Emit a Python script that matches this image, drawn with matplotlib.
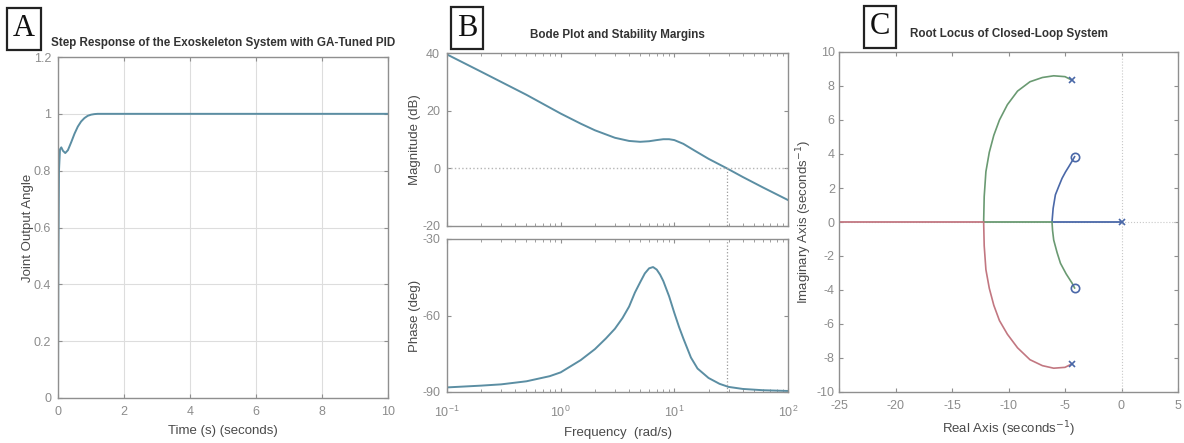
import numpy as np
import matplotlib
matplotlib.use("Agg")
import matplotlib.pyplot as plt
from matplotlib.ticker import LogLocator, NullFormatter

# ---- data ----
# A: step response
step_t = [0, 0.01, 0.03, 0.06, 0.1, 0.15, 0.22, 0.3, 0.4, 0.5, 0.6, 0.7, 0.8, 0.9, 1.0, 1.1, 1.2, 1.4, 2, 10]
step_y = [0, 0.45, 0.8, 0.875, 0.882, 0.87, 0.862, 0.872, 0.9, 0.93, 0.955, 0.973, 0.985, 0.993, 0.997, 0.999, 1.0, 1.0, 1.0, 1.0]

# B: bode magnitude / phase
mag_w = [0.1, 0.2, 0.5, 1, 1.5, 2, 3, 4, 5, 6, 7, 8, 9, 10, 12, 15, 20, 29, 40, 60, 100]
mag_db = [39.5, 33.5, 25.5, 19, 15.5, 13.2, 10.6, 9.5, 9.2, 9.4, 9.8, 10.1, 10.1, 9.8, 8.5, 6.2, 3.3, 0, -3, -6.6, -11]
ph_w = [0.1, 0.2, 0.3, 0.5, 0.8, 1, 1.5, 2, 2.5, 3, 3.5, 4, 4.5, 5, 5.5, 6, 6.5, 7, 7.5, 8, 9, 10,
        11, 12, 14, 16, 20, 25, 30, 40, 60, 100]
ph_deg = [-88.2, -87.5, -87, -85.8, -83.8, -82.3, -77.5, -73.2, -69, -65.2, -61, -56.5, -51, -47, -43.5,
          -41.5, -41, -42, -44, -46.5, -52.5, -59, -64.5, -69, -76.5, -80.8, -84.5, -86.8, -88, -88.8, -89.3, -89.6]
w_crossover = 29

# C: root locus branches
outer_up_x = [-4.4, -5.0, -6.0, -7.0, -8.1, -9.2, -10.1, -10.8, -11.3, -11.7, -12.0, -12.15, -12.2]
outer_up_y = [8.35, 8.55, 8.6, 8.5, 8.25, 7.7, 6.9, 6.0, 5.1, 4.1, 2.96, 1.5, 0]
outer_lo_x = [-4.4, -5.0, -6.0, -7.0, -8.1, -9.2, -10.1, -10.8, -11.3, -11.7, -12.0, -12.15, -12.2]
outer_lo_y = [-8.35, -8.55, -8.6, -8.45, -8.1, -7.4, -6.6, -5.8, -4.9, -3.9, -2.8, -1.4, 0]
inner_up_x = [-6.15, -6.05, -5.85, -5.55, -5.26, -4.95, -4.67, -4.4, -4.15]
inner_up_y = [0, 0.8, 1.6, 2.1, 2.57, 2.95, 3.25, 3.55, 3.84]
inner_lo_x = [-6.15, -6.1, -6.0, -5.7, -5.4, -4.9, -4.37, -4.15]
inner_lo_y = [0, -0.5, -1.06, -1.8, -2.43, -3.05, -3.6, -3.88]
real_red_x = [-25, -12.2]
real_green_x = [-12.2, -6.15]
real_blue_x = [-6.15, 0]
poles_x = [-4.4, -4.4, 0]
poles_y = [8.35, -8.35, 0]
zeros_x = [-4.15, -4.15]
zeros_y = [3.84, -3.88]

# ---- style ----
plt.rcParams['font.family'] = ['Liberation Sans', 'DejaVu Sans']
plt.rcParams['axes.unicode_minus'] = False
line_c = '#5b8ea3'
tick_c = '#8c8c8c'
spine_c = '#8f8f8f'
lab_c = '#4a4a4a'
rl_blue = '#4a68a8'
rl_green = '#6a9a72'
rl_red = '#c27781'

W, H = 1184, 443
fig = plt.figure(figsize=(W / 100, H / 100), dpi=100)


def box(l, t, r, b):
    return [l / W, 1 - b / H, (r - l) / W, (b - t) / H]


def style(ax, ypad=5):
    for s in ax.spines.values():
        s.set_color(spine_c)
        s.set_linewidth(1.0)
    ax.tick_params(direction='in', top=True, right=True, colors=spine_c,
                   labelcolor=tick_c, labelsize=9, length=3, pad=6)
    ax.tick_params(axis='y', pad=ypad)
    ax.tick_params(which='minor', direction='in', top=True, right=True, colors=spine_c, length=2)


title_kw = dict(fontsize=8.4, fontweight='bold', color='#333333')

# ---- A ----
axA = fig.add_axes(box(58, 57, 388, 398))
axA.plot(step_t, step_y, color=line_c, lw=1.4)
axA.set_xlim(0, 10)
axA.set_ylim(0, 1.2)
axA.set_xticks([0, 2, 4, 6, 8, 10])
axA.set_yticks([0, 0.2, 0.4, 0.6, 0.8, 1, 1.2])
axA.set_yticklabels(['0', '0.2', '0.4', '0.6', '0.8', '1', '1.2'])
axA.grid(True, color='#dddddd', lw=0.8)
style(axA, ypad=5)
axA.set_xlabel('Time (s) (seconds)', fontsize=9.5, color=lab_c, labelpad=5)
axA.set_ylabel('Joint Output Angle', fontsize=9.5, color=lab_c, labelpad=0)
axA.set_title('Step Response of the Exoskeleton System with GA-Tuned PID', pad=8, **title_kw)

# ---- B magnitude ----
axM = fig.add_axes(box(447, 53, 788, 226))
axM.semilogx(mag_w, mag_db, color=line_c, lw=1.4)
axM.axhline(0, color='#b5b5b5', lw=1.0, ls=':')
axM.plot([w_crossover, w_crossover], [0, -20], color='#9a9a9a', lw=0.9, ls=':')
axM.set_xlim(0.1, 100)
axM.set_ylim(-20, 40)
axM.set_yticks([-20, 0, 20, 40])
axM.xaxis.set_major_locator(LogLocator(base=10, numticks=10))
axM.xaxis.set_minor_locator(LogLocator(base=10, subs=np.arange(2, 10), numticks=10))
axM.xaxis.set_major_formatter(NullFormatter())
axM.xaxis.set_minor_formatter(NullFormatter())
style(axM)
axM.set_ylabel('Magnitude (dB)', fontsize=9.5, color=lab_c, labelpad=1)
axM.set_title('Bode Plot and Stability Margins', pad=11, **title_kw)

# ---- B phase ----
axP = fig.add_axes(box(447, 239, 788, 392))
axP.semilogx(ph_w, ph_deg, color=line_c, lw=1.4)
axP.axvline(w_crossover, color='#9a9a9a', lw=0.9, ls=':')
axP.set_xlim(0.1, 100)
axP.set_ylim(-90, -30)
axP.set_yticks([-90, -60, -30])
axP.xaxis.set_major_locator(LogLocator(base=10, numticks=10))
axP.xaxis.set_minor_locator(LogLocator(base=10, subs=np.arange(2, 10), numticks=10))
axP.xaxis.set_minor_formatter(NullFormatter())
style(axP)
axP.tick_params(axis='x', pad=9)
axP.set_ylabel('Phase (deg)', fontsize=9.5, color=lab_c, labelpad=1)
axP.set_xlabel('Frequency  (rad/s)', fontsize=9.5, color=lab_c, labelpad=5)

# ---- C ----
axC = fig.add_axes(box(839, 52, 1178, 392))
axC.axhline(0, color='#c8c8c8', lw=0.8, ls=':')
axC.axvline(0, color='#c8c8c8', lw=0.8, ls=':')
axC.plot(real_red_x, [0, 0], color=rl_red, lw=1.3)
axC.plot(real_green_x, [0, 0], color=rl_green, lw=1.3)
axC.plot(real_blue_x, [0, 0], color=rl_blue, lw=1.3)
axC.plot(outer_up_x, outer_up_y, color=rl_green, lw=1.2)
axC.plot(outer_lo_x, outer_lo_y, color=rl_red, lw=1.2)
axC.plot(inner_up_x, inner_up_y, color=rl_blue, lw=1.2)
axC.plot(inner_lo_x, inner_lo_y, color=rl_green, lw=1.2)
axC.plot(poles_x, poles_y, 'x', color=rl_blue, ms=4, mew=1.2)
axC.plot(zeros_x, zeros_y, 'o', mfc='none', mec=rl_blue, ms=6, mew=1.2)
axC.set_xlim(-25, 5)
axC.set_ylim(-10, 10)
axC.set_xticks([-25, -20, -15, -10, -5, 0, 5])
axC.set_yticks(np.arange(-10, 11, 2))
style(axC, ypad=3)
axC.set_xlabel('Real Axis (seconds$^{-1}$)', fontsize=9.5, color=lab_c, labelpad=5)
axC.set_ylabel('Imaginary Axis (seconds$^{-1}$)', fontsize=9.5, color=lab_c, labelpad=2)
axC.set_title('Root Locus of Closed-Loop System', pad=11, **title_kw)

# ---- panel letters ----
for letter, x, y in [('A', 24, 29), ('B', 467, 28), ('C', 880, 27)]:
    fig.text(x / W, 1 - y / H, letter, fontsize=22, family=['Liberation Serif', 'DejaVu Serif'],
             ha='center', va='center', color='#111111',
             bbox=dict(boxstyle='square,pad=0.2', fc='white', ec='#222222', lw=1.6))

fig.savefig('out.png', dpi=100)
